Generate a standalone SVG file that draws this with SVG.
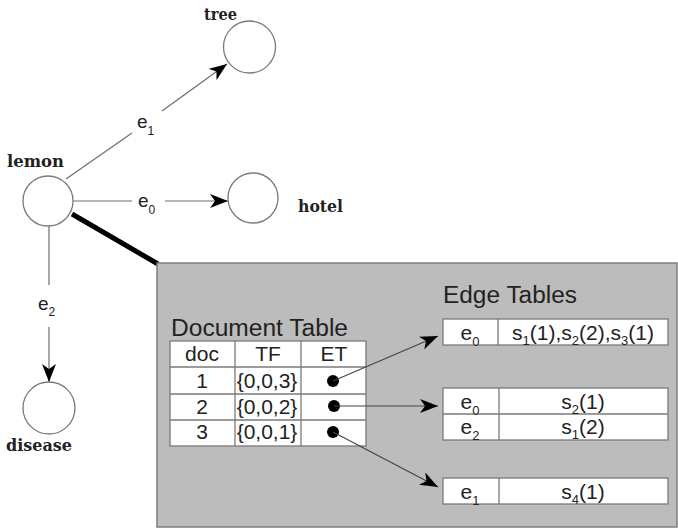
<svg xmlns="http://www.w3.org/2000/svg" width="678" height="530" viewBox="0 0 678 530">
<style>
.node{fill:#fff;stroke:#7a7a7a;stroke-width:1.3}
.nl{font-family:"DejaVu Serif","Liberation Serif",serif;font-weight:bold;font-size:17px;fill:#222}
.edge{stroke:#6e6e6e;stroke-width:1.2;fill:none}
.el{font-family:"Liberation Sans",Arial,sans-serif;font-size:19px;fill:#222}
.t{font-family:"Liberation Sans",Arial,sans-serif;font-size:21px;fill:#222;text-anchor:middle}
.title{font-family:"Liberation Sans",Arial,sans-serif;font-size:23px;fill:#222}
.cell{fill:#fff;stroke:#7a7a7a;stroke-width:1.3}
.grid{stroke:#7a7a7a;stroke-width:1.3}
.ptr{stroke:#444;stroke-width:1.2;fill:none}
</style>
<defs>
<marker id="ah" viewBox="0 0 18 14" markerUnits="userSpaceOnUse" markerWidth="18" markerHeight="14" refX="18" refY="7" orient="auto">
<path d="M0,0 L18,7 L0,14 L5,7 Z" fill="#000"/>
</marker>
</defs>

<g id="connectors">
<line class="edge" x1="66" y1="179" x2="132" y2="133"/>
<line class="edge" x1="162" y1="111" x2="227" y2="64" marker-end="url(#ah)"/>
<text class="el" x="137" y="128">e<tspan font-size="12" dy="7">1</tspan></text>
<line class="edge" x1="73" y1="201" x2="132" y2="201"/>
<line class="edge" x1="165" y1="201" x2="228" y2="201" marker-end="url(#ah)"/>
<text class="el" x="138" y="207">e<tspan font-size="12" dy="7">0</tspan></text>
<line class="edge" x1="49" y1="226" x2="49" y2="285"/>
<line class="edge" x1="49" y1="327" x2="49" y2="382" marker-end="url(#ah)"/>
<text class="el" x="38" y="310">e<tspan font-size="12" dy="6">2</tspan></text>
<line x1="72" y1="214" x2="158" y2="264" stroke="#000" stroke-width="5"/>
</g>

<g id="node-tree"><circle class="node" cx="249.5" cy="47" r="26"/><text class="nl" x="204" y="20" textLength="33" lengthAdjust="spacingAndGlyphs">tree</text></g>
<g id="node-lemon"><circle class="node" cx="48" cy="201" r="25"/><text class="nl" x="7" y="167" textLength="57" lengthAdjust="spacingAndGlyphs">lemon</text></g>
<g id="node-hotel"><circle class="node" cx="253" cy="198" r="25"/><text class="nl" x="298" y="212" textLength="45" lengthAdjust="spacingAndGlyphs">hotel</text></g>
<g id="node-disease"><circle class="node" cx="49" cy="408" r="26"/><text class="nl" x="6" y="451" textLength="66" lengthAdjust="spacingAndGlyphs">disease</text></g>

<g id="detail-box">
<rect x="157" y="263" width="520" height="264" fill="#bcbcbc" stroke="#7e7e7e" stroke-width="1.5"/>

<g id="document-table">
<text class="title" x="171" y="336" textLength="177" lengthAdjust="spacingAndGlyphs">Document Table</text>
<rect class="cell" x="170" y="341" width="196" height="105"/>
<line class="grid" x1="170" y1="367" x2="366" y2="367"/>
<line class="grid" x1="170" y1="394" x2="366" y2="394"/>
<line class="grid" x1="170" y1="420" x2="366" y2="420"/>
<line class="grid" x1="235" y1="341" x2="235" y2="446"/>
<line class="grid" x1="301" y1="341" x2="301" y2="446"/>
<text class="t" x="202" y="361">doc</text>
<text class="t" x="268" y="361">TF</text>
<text class="t" x="334" y="361">ET</text>
<text class="t" x="202" y="388">1</text>
<text class="t" x="267" y="388">{0,0,3}</text>
<text class="t" x="202" y="414">2</text>
<text class="t" x="267" y="414">{0,0,2}</text>
<text class="t" x="202" y="439">3</text>
<text class="t" x="267" y="439">{0,0,1}</text>
<circle cx="333" cy="381" r="6" fill="#000"/>
<circle cx="334" cy="406" r="6" fill="#000"/>
<circle cx="333" cy="432" r="6" fill="#000"/>
</g>

<g id="edge-tables">
<text class="title" x="443" y="303" textLength="134" lengthAdjust="spacingAndGlyphs">Edge Tables</text>
<rect class="cell" x="443" y="319" width="225" height="26"/>
<line class="grid" x1="498" y1="319" x2="498" y2="345"/>
<text class="t" x="470" y="340">e<tspan font-size="13" dy="6">0</tspan></text>
<text class="t" x="583" y="340">s<tspan font-size="13" dy="5">1</tspan><tspan dy="-5">(1),s</tspan><tspan font-size="13" dy="5">2</tspan><tspan dy="-5">(2),s</tspan><tspan font-size="13" dy="5">3</tspan><tspan dy="-5">(1)</tspan></text>

<rect class="cell" x="443" y="388" width="225" height="52"/>
<line class="grid" x1="443" y1="414" x2="668" y2="414"/>
<line class="grid" x1="499" y1="388" x2="499" y2="440"/>
<text class="t" x="470" y="409">e<tspan font-size="13" dy="6">0</tspan></text>
<text class="t" x="583" y="409">s<tspan font-size="13" dy="5">2</tspan><tspan dy="-5">(1)</tspan></text>
<text class="t" x="470" y="434">e<tspan font-size="13" dy="6">2</tspan></text>
<text class="t" x="583" y="434">s<tspan font-size="13" dy="5">1</tspan><tspan dy="-5">(2)</tspan></text>

<rect class="cell" x="443" y="478" width="225" height="26"/>
<line class="grid" x1="499" y1="478" x2="499" y2="504"/>
<text class="t" x="470" y="499">e<tspan font-size="13" dy="6">1</tspan></text>
<text class="t" x="583" y="499">s<tspan font-size="13" dy="5">4</tspan><tspan dy="-5">(1)</tspan></text>
</g>

<g id="pointers">
<line class="ptr" x1="333" y1="381" x2="438" y2="336" marker-end="url(#ah)"/>
<line class="ptr" x1="334" y1="406" x2="438" y2="406" marker-end="url(#ah)"/>
<line class="ptr" x1="333" y1="432" x2="438" y2="487" marker-end="url(#ah)"/>
</g>
</g>
</svg>
